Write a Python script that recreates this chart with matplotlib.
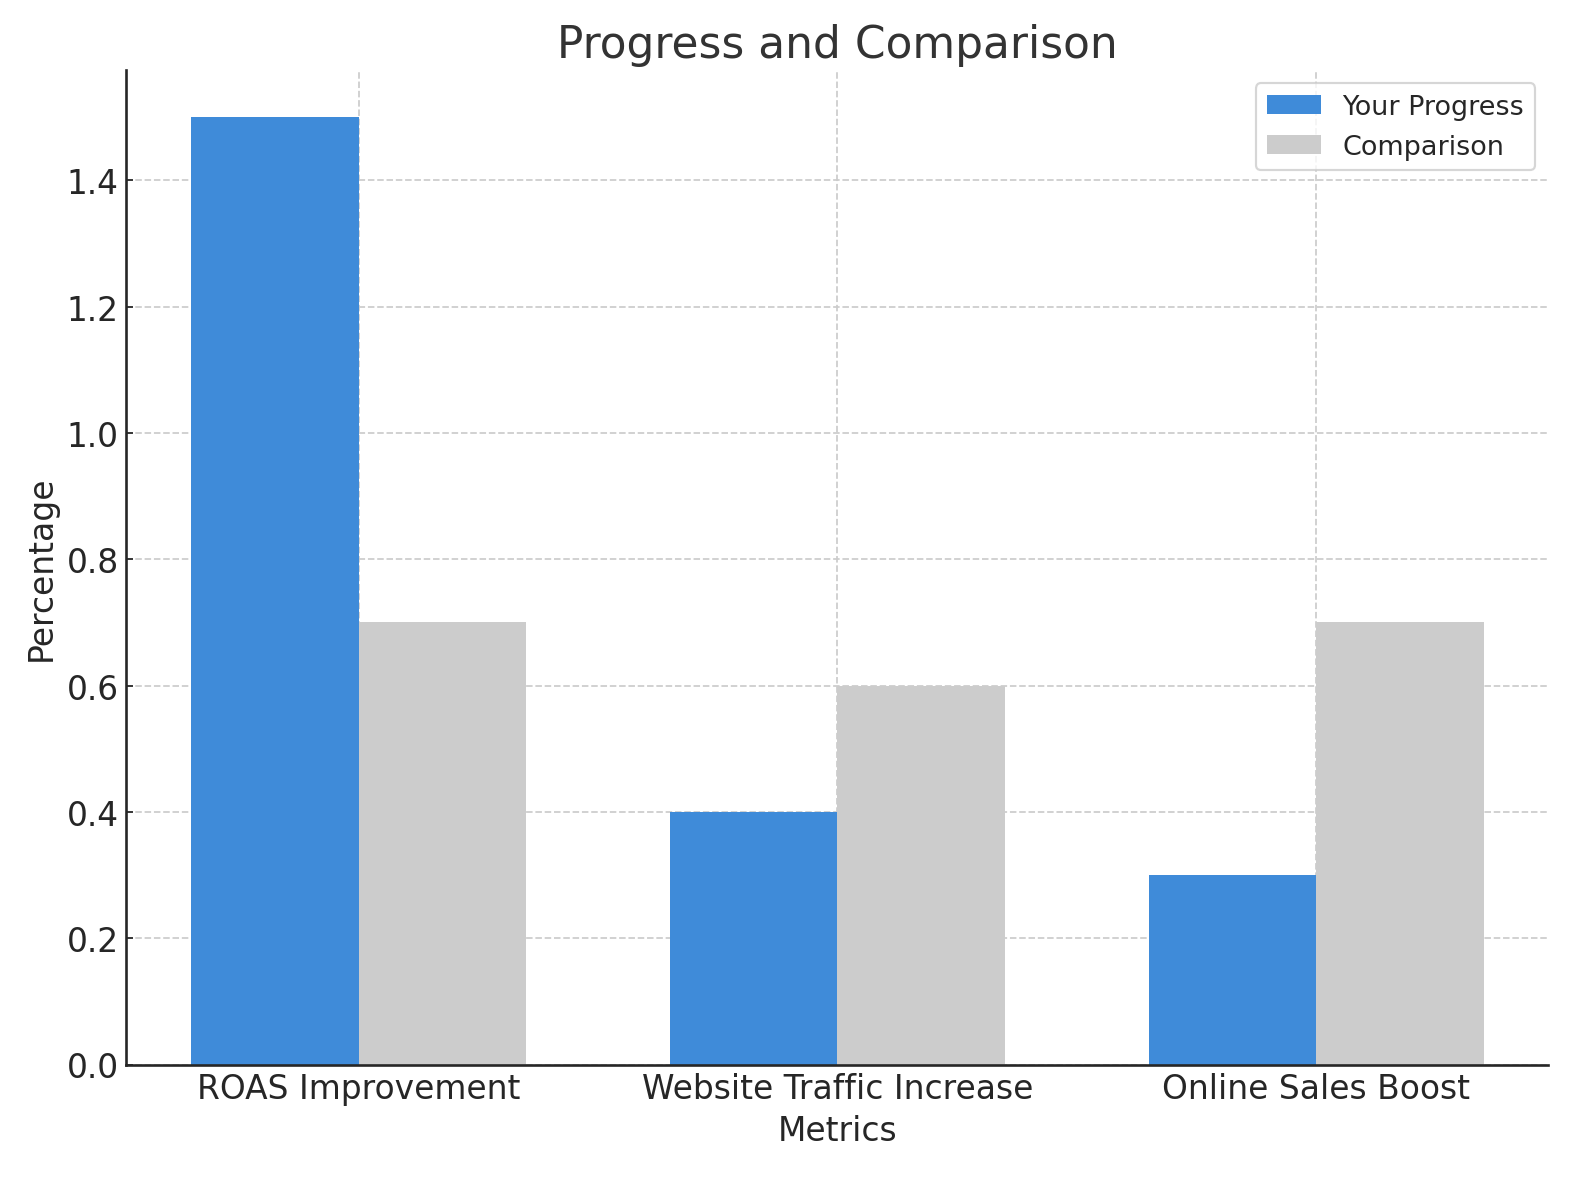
import matplotlib.pyplot as plt
import numpy as np

categories = ["ROAS Improvement", "Website Traffic Increase", "Online Sales Boost"]
your_progress = [1.5, 0.4, 0.3]
comparison = [0.7, 0.6, 0.7]

plt.rcParams["font.family"] = "DejaVu Sans"
plt.rcParams["text.color"] = "#262626"
plt.rcParams["axes.labelcolor"] = "#262626"
plt.rcParams["xtick.color"] = "#262626"
plt.rcParams["ytick.color"] = "#262626"

x = np.arange(len(categories))
width = 0.35

fig, ax = plt.subplots(figsize=(10, 7.468), dpi=158)
ax.bar(x - width / 2, your_progress, width, color="#3f8bd9", label="Your Progress")
ax.bar(x + width / 2, comparison, width, color="#cccccc", label="Comparison")

ax.set_title("Progress and Comparison", fontsize=20, color="#333333")
ax.set_xlabel("Metrics", fontsize=15)
ax.set_ylabel("Percentage", fontsize=15)
ax.set_xticks(x)
ax.set_xticklabels(categories, fontsize=15)
ax.tick_params(axis="y", labelsize=15)
ax.tick_params(direction="in", length=3)

ax.grid(True, linestyle="--", color="#cccccc", linewidth=0.8)
ax.set_axisbelow(True)
for side in ["top", "right"]:
    ax.spines[side].set_visible(False)
for side in ["left", "bottom"]:
    ax.spines[side].set_linewidth(1.2)
    ax.spines[side].set_color("#262626")

ax.legend(loc="upper right", fontsize=12.3, frameon=True)

plt.subplots_adjust(left=0.08, right=0.98, top=0.94, bottom=0.097)
plt.savefig("out.png")
